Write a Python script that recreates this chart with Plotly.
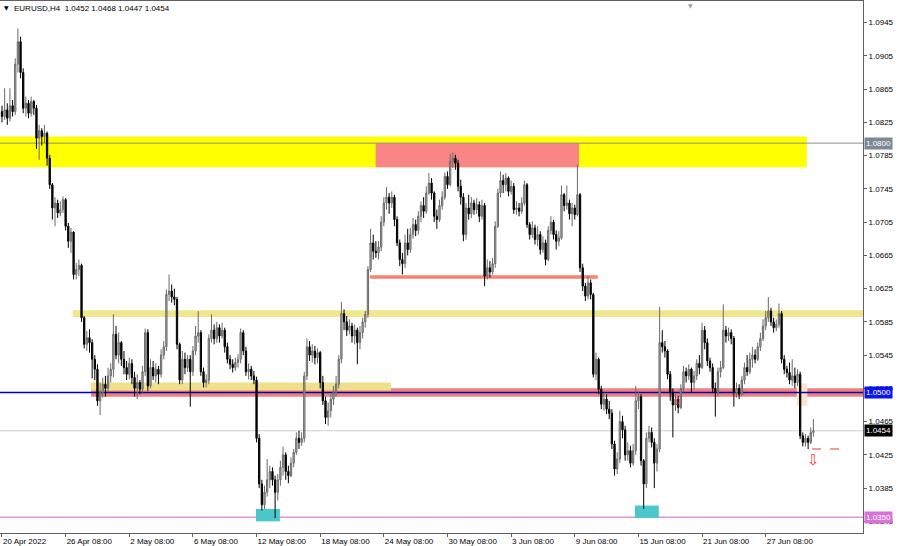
import plotly.graph_objects as go
import pandas as pd

# ---------------- data (EURUSD, H4) ----------------
first_open = 1.0838
closes = [
    1.0832, 1.0840, 1.0830, 1.0845, 1.0838, 1.0895, 1.0922, 1.0885, 1.0842, 1.0848,
    1.0836, 1.0850, 1.0842, 1.0806, 1.0815, 1.0808, 1.0812, 1.0782, 1.0750, 1.0722,
    1.0728, 1.0716, 1.0720, 1.0732, 1.0700, 1.0682, 1.0693, 1.0642, 1.0648, 1.0653,
    1.0590, 1.0558, 1.0566, 1.0560, 1.0540, 1.0528, 1.0490, 1.0500, 1.0510, 1.0505,
    1.0520, 1.0528, 1.0570, 1.0545, 1.0560, 1.0540, 1.0530, 1.0522, 1.0535, 1.0518,
    1.0505, 1.0512, 1.0504, 1.0525, 1.0572, 1.0508, 1.0530, 1.0520, 1.0528, 1.0522,
    1.0545, 1.0555, 1.0618, 1.0622, 1.0615, 1.0612, 1.0558, 1.0515, 1.0540, 1.0530,
    1.0540, 1.0525, 1.0550, 1.0568, 1.0572, 1.0525, 1.0512, 1.0515, 1.0565, 1.0575,
    1.0565, 1.0578, 1.0568, 1.0575, 1.0555, 1.0540, 1.0534, 1.0530, 1.0536, 1.0540,
    1.0572, 1.0550, 1.0525, 1.0528, 1.0520, 1.0515, 1.0445, 1.0390, 1.0365, 1.0380,
    1.0395, 1.0405, 1.0395, 1.0380, 1.0395, 1.0410, 1.0425, 1.0405, 1.0400, 1.0415,
    1.0428, 1.0445, 1.0440, 1.0445, 1.0520, 1.0555, 1.0545, 1.0550, 1.0542, 1.0548,
    1.0512, 1.0490, 1.0470, 1.0478, 1.0492, 1.0500, 1.0510, 1.0540, 1.0595, 1.0585,
    1.0575, 1.0580, 1.0568, 1.0575, 1.0560, 1.0572, 1.0585, 1.0594, 1.0648, 1.0680,
    1.0670, 1.0668, 1.0675, 1.0705, 1.0728, 1.0735, 1.0728, 1.0735, 1.0708, 1.0680,
    1.0660, 1.0655, 1.0680, 1.0672, 1.0690, 1.0702, 1.0695, 1.0712, 1.0725, 1.0718,
    1.0740, 1.0752, 1.0740, 1.0712, 1.0708, 1.0725, 1.0735, 1.0760, 1.0750, 1.0778,
    1.0782, 1.0776, 1.0748, 1.0735, 1.0690, 1.0722, 1.0715, 1.0728, 1.0720, 1.0726,
    1.0712, 1.0725, 1.0640, 1.0650, 1.0645, 1.0655, 1.0700, 1.0740, 1.0755, 1.0750,
    1.0758, 1.0742, 1.0748, 1.0720, 1.0722, 1.0718, 1.0728, 1.0750, 1.0702, 1.0690,
    1.0698, 1.0684, 1.0690, 1.0672, 1.0680, 1.0660, 1.0695, 1.0705, 1.0690, 1.0682,
    1.0686, 1.0738, 1.0725, 1.0728, 1.0715, 1.0722, 1.0714, 1.0738, 1.0650, 1.0628,
    1.0616, 1.0632, 1.0618, 1.0522, 1.0540, 1.0504, 1.0486, 1.0492, 1.0480, 1.0475,
    1.0438, 1.0408, 1.0420, 1.0465, 1.0455, 1.0425, 1.0430, 1.0415, 1.0430, 1.0490,
    1.0495, 1.0418, 1.0390, 1.0445, 1.0452, 1.0440, 1.0415, 1.0432, 1.0560, 1.0555,
    1.0550, 1.0522, 1.0500, 1.0485, 1.0492, 1.0482, 1.0505, 1.0525, 1.0520, 1.0528,
    1.0512, 1.0520, 1.0535, 1.0530, 1.0575, 1.0560, 1.0538, 1.0530, 1.0505, 1.0500,
    1.0525, 1.0530, 1.0575, 1.0568, 1.0572, 1.0565, 1.0500, 1.0505, 1.0498, 1.0515,
    1.0530, 1.0525, 1.0540, 1.0545, 1.0540, 1.0555, 1.0565, 1.0580, 1.0590, 1.0598,
    1.0585, 1.0578, 1.0582, 1.0595, 1.0540, 1.0528, 1.0524, 1.0515, 1.0520, 1.0512,
    1.0522, 1.0448, 1.0440, 1.0445, 1.0440, 1.0452, 1.0454,
]
highs = [
    1.0845, 1.0866, 1.0848, 1.0866, 1.0852, 1.0902, 1.0938, 1.0928, 1.0890, 1.0856,
    1.0852, 1.0856, 1.0852, 1.0846, 1.0822, 1.0818, 1.0822, 1.0814, 1.0786, 1.0752,
    1.0735, 1.0732, 1.0730, 1.0736, 1.0734, 1.0704, 1.0698, 1.0694, 1.0656, 1.0660,
    1.0655, 1.0592, 1.0574, 1.0576, 1.0564, 1.0545, 1.0534, 1.0512, 1.0518, 1.0520,
    1.0530, 1.0535, 1.0594, 1.0580, 1.0572, 1.0562, 1.0550, 1.0538, 1.0542, 1.0540,
    1.0525, 1.0522, 1.0515, 1.0532, 1.0577, 1.0576, 1.0540, 1.0538, 1.0535, 1.0532,
    1.0552, 1.0562, 1.0624, 1.0642, 1.0630, 1.0625, 1.0615, 1.0560, 1.0550, 1.0548,
    1.0545, 1.0545, 1.0556, 1.0580, 1.0598, 1.0575, 1.0530, 1.0522, 1.0570, 1.0594,
    1.0582, 1.0585, 1.0582, 1.0584, 1.0578, 1.0560, 1.0545, 1.0540, 1.0542, 1.0546,
    1.0577, 1.0575, 1.0555, 1.0535, 1.0532, 1.0526, 1.0519, 1.0450, 1.0395, 1.0388,
    1.0420, 1.0412, 1.0410, 1.0400, 1.0402, 1.0418, 1.0435, 1.0428, 1.0412, 1.0422,
    1.0432, 1.0452, 1.0454, 1.0452, 1.0525, 1.0565, 1.0562, 1.0558, 1.0556, 1.0553,
    1.0550, 1.0520, 1.0495, 1.0488, 1.0498, 1.0508, 1.0520, 1.0545, 1.0609, 1.0600,
    1.0592, 1.0588, 1.0584, 1.0582, 1.0578, 1.0580, 1.0590, 1.0598, 1.0652, 1.0697,
    1.0690, 1.0682, 1.0682, 1.0712, 1.0735, 1.0747, 1.0740, 1.0742, 1.0738, 1.0712,
    1.0684, 1.0668, 1.0690, 1.0697, 1.0698, 1.0710, 1.0708, 1.0718, 1.0730, 1.0735,
    1.0748, 1.0764, 1.0758, 1.0742, 1.0720, 1.0732, 1.0742, 1.0765, 1.0766, 1.0787,
    1.0789, 1.0786, 1.0780, 1.0756, 1.0740, 1.0728, 1.0738, 1.0735, 1.0732, 1.0734,
    1.0730, 1.0732, 1.0728, 1.0660, 1.0658, 1.0662, 1.0706, 1.0745, 1.0766, 1.0762,
    1.0764, 1.0760, 1.0755, 1.0752, 1.0730, 1.0728, 1.0735, 1.0755, 1.0752, 1.0705,
    1.0706, 1.0702, 1.0700, 1.0694, 1.0688, 1.0684, 1.0700, 1.0712, 1.0708, 1.0695,
    1.0694, 1.0749, 1.0740, 1.0749, 1.0732, 1.0728, 1.0726, 1.0774, 1.0740, 1.0655,
    1.0632, 1.0640, 1.0636, 1.0620, 1.0548, 1.0542, 1.0508, 1.0500, 1.0498, 1.0490,
    1.0480, 1.0442, 1.0428, 1.0478, 1.0472, 1.0460, 1.0440, 1.0436, 1.0438, 1.0508,
    1.0502, 1.0498, 1.0420, 1.0452, 1.0460, 1.0458, 1.0445, 1.0438, 1.0603, 1.0575,
    1.0562, 1.0552, 1.0526, 1.0505, 1.0498, 1.0496, 1.0510, 1.0532, 1.0530, 1.0534,
    1.0530, 1.0526, 1.0540, 1.0545, 1.0584, 1.0580, 1.0565, 1.0542, 1.0535, 1.0512,
    1.0530, 1.0538, 1.0606, 1.0580, 1.0578, 1.0576, 1.0568, 1.0512, 1.0510, 1.0520,
    1.0536, 1.0545, 1.0548, 1.0555, 1.0552, 1.0560, 1.0572, 1.0588, 1.0598, 1.0615,
    1.0602, 1.0590, 1.0588, 1.0607, 1.0598, 1.0545, 1.0532, 1.0536, 1.0540, 1.0530,
    1.0528, 1.0525, 1.0452, 1.0450, 1.0448, 1.0458, 1.0468,
]
lows = [
    1.0825, 1.0828, 1.0822, 1.0826, 1.0832, 1.0834, 1.0885, 1.0878, 1.0836, 1.0832,
    1.0830, 1.0832, 1.0834, 1.0793, 1.0780, 1.0797, 1.0800, 1.0773, 1.0745, 1.0708,
    1.0700, 1.0710, 1.0712, 1.0716, 1.0695, 1.0674, 1.0668, 1.0636, 1.0636, 1.0640,
    1.0585, 1.0553, 1.0550, 1.0548, 1.0517, 1.0515, 1.0484, 1.0473, 1.0494, 1.0495,
    1.0500, 1.0512, 1.0518, 1.0540, 1.0535, 1.0532, 1.0522, 1.0515, 1.0516, 1.0510,
    1.0495, 1.0492, 1.0498, 1.0500, 1.0520, 1.0502, 1.0505, 1.0515, 1.0512, 1.0510,
    1.0518, 1.0540, 1.0550, 1.0610, 1.0608, 1.0605, 1.0552, 1.0510, 1.0510, 1.0522,
    1.0525, 1.0483, 1.0520, 1.0545, 1.0560, 1.0520, 1.0506, 1.0506, 1.0510, 1.0560,
    1.0558, 1.0560, 1.0560, 1.0565, 1.0548, 1.0535, 1.0528, 1.0524, 1.0526, 1.0530,
    1.0535, 1.0545, 1.0520, 1.0516, 1.0515, 1.0510, 1.0440, 1.0385, 1.0358, 1.0360,
    1.0375, 1.0385, 1.0388, 1.0349, 1.0370, 1.0388, 1.0400, 1.0395, 1.0391, 1.0398,
    1.0410, 1.0425, 1.0432, 1.0436, 1.0440, 1.0515, 1.0538, 1.0536, 1.0534, 1.0535,
    1.0505, 1.0485, 1.0462, 1.0460, 1.0470, 1.0485, 1.0495, 1.0505, 1.0535, 1.0575,
    1.0568, 1.0570, 1.0560, 1.0558, 1.0534, 1.0552, 1.0565, 1.0578, 1.0590, 1.0645,
    1.0660, 1.0662, 1.0660, 1.0670, 1.0700, 1.0720, 1.0715, 1.0722, 1.0700, 1.0676,
    1.0652, 1.0642, 1.0650, 1.0665, 1.0668, 1.0685, 1.0688, 1.0690, 1.0705, 1.0710,
    1.0715, 1.0738, 1.0732, 1.0705, 1.0697, 1.0705, 1.0720, 1.0732, 1.0745, 1.0748,
    1.0770, 1.0768, 1.0742, 1.0726, 1.0682, 1.0684, 1.0708, 1.0710, 1.0714, 1.0715,
    1.0705, 1.0708, 1.0628, 1.0636, 1.0638, 1.0642, 1.0650, 1.0698, 1.0735, 1.0740,
    1.0742, 1.0736, 1.0738, 1.0715, 1.0714, 1.0712, 1.0715, 1.0725, 1.0698, 1.0684,
    1.0686, 1.0678, 1.0676, 1.0666, 1.0668, 1.0653, 1.0658, 1.0690, 1.0684, 1.0672,
    1.0676, 1.0684, 1.0718, 1.0720, 1.0708, 1.0700, 1.0708, 1.0712, 1.0645, 1.0622,
    1.0610, 1.0612, 1.0612, 1.0518, 1.0515, 1.0498, 1.0480, 1.0478, 1.0474, 1.0468,
    1.0432, 1.0400, 1.0402, 1.0415, 1.0445, 1.0418, 1.0418, 1.0410, 1.0412, 1.0425,
    1.0480, 1.0412, 1.0360, 1.0385, 1.0440, 1.0434, 1.0385, 1.0405, 1.0428, 1.0548,
    1.0542, 1.0516, 1.0490, 1.0446, 1.0478, 1.0475, 1.0480, 1.0500, 1.0512, 1.0515,
    1.0500, 1.0504, 1.0515, 1.0522, 1.0528, 1.0552, 1.0532, 1.0525, 1.0500, 1.0471,
    1.0495, 1.0518, 1.0528, 1.0560, 1.0562, 1.0558, 1.0483, 1.0494, 1.0492, 1.0496,
    1.0510, 1.0520, 1.0522, 1.0530, 1.0535, 1.0538, 1.0550, 1.0562, 1.0575, 1.0585,
    1.0580, 1.0572, 1.0574, 1.0578, 1.0535, 1.0522, 1.0518, 1.0510, 1.0508, 1.0505,
    1.0508, 1.0444, 1.0435, 1.0435, 1.0432, 1.0438, 1.0447,
]
opens = [first_open] + closes[:-1]   # forex bars open at the previous close

# time labels of the bottom axis
tick_times = ["2022-04-20 08:00", "2022-04-26 08:00", "2022-05-02 08:00", "2022-05-06 08:00",
              "2022-05-12 08:00", "2022-05-18 08:00", "2022-05-24 08:00", "2022-05-30 08:00",
              "2022-06-03 08:00", "2022-06-09 08:00", "2022-06-15 08:00", "2022-06-21 08:00",
              "2022-06-27 08:00"]
tick_text = ["20 Apr 2022", "26 Apr 08:00", "2 May 08:00", "6 May 08:00", "12 May 08:00",
             "18 May 08:00", "24 May 08:00", "30 May 08:00", "3 Jun 08:00", "9 Jun 08:00",
             "15 Jun 08:00", "21 Jun 08:00", "27 Jun 08:00"]
price_ticks = [1.0345, 1.0385, 1.0425, 1.0465, 1.0505, 1.0545, 1.0585, 1.0625,
               1.0665, 1.0705, 1.0745, 1.0785, 1.0825, 1.0865, 1.0905, 1.0945]

# drawn levels / zones (bar index range, price range)
upper_zone = (-1, 303.5, 1.0771, 1.0808)
upper_zone_part = (140.9, 217.6, 1.0771, 1.0800)
level_1_0800 = 1.0800
mid_band = (26.7, 330, 1.0591, 1.0599)
low_band_red = (33.6, 330, 1.0495, 1.0505)
low_band_yellow = (33.6, 146.7, 1.0502, 1.0512)
level_1_0500 = 1.0500
support_line = (138.8, 224.7, 1.0639)
bid_level = 1.0454
level_1_0350 = 1.0350
low_boxes = [(95.8, 104.8, 1.0345, 1.0360), (238.7, 247.7, 1.0349, 1.0364)]
peach_box = (299.7, 303.7, 1.0484, 1.0511)
target_line = (305.5, 319, 1.0432)
arrows = [(306, 1.0419, 15), (254.5, 1.0489, 11)]
FULL = (-1, 330)   # full-width lines span the whole visible bar range

# bar times (H4, weekdays) -> index of each label
times = []
for d in pd.bdate_range("2022-04-20", "2022-07-01"):
    for h in range(0, 24, 4):
        t = d + pd.Timedelta(hours=h)
        if t >= pd.Timestamp("2022-04-20 08:00"):
            times.append(t)
times = times[:len(closes)]
bars = list(range(len(closes)))
tick_bars = [times.index(pd.Timestamp(t)) for t in tick_times]

FONT = "Liberation Sans, Arial, sans-serif"

fig = go.Figure()
fig.add_trace(go.Candlestick(
    x=bars, open=opens, high=highs, low=lows, close=closes,
    increasing=dict(line=dict(color="#6a6a6a", width=1), fillcolor="#b4b4b4"),
    decreasing=dict(line=dict(color="#000000", width=1), fillcolor="#000000"),
    whiskerwidth=0, hoverinfo="skip", showlegend=False,
))

shapes = []


def rect(x0, x1, y0, y1, color):
    shapes.append(dict(type="rect", xref="x", yref="y", x0=x0, x1=x1, y0=y0, y1=y1,
                       fillcolor=color, line=dict(width=0), layer="below"))


def hline(y, color, width, x0=FULL[0], x1=FULL[1], dash="solid"):
    shapes.append(dict(type="line", xref="x", yref="y", x0=x0, x1=x1, y0=y, y1=y,
                       line=dict(color=color, width=width, dash=dash), layer="below"))


rect(*upper_zone, "#ffff00")
rect(*upper_zone_part, "#f98585")
hline(level_1_0800, "#8c8c8c", 1)
rect(*mid_band, "#f0e68c")
rect(*low_band_red, "#f08080")
rect(*low_band_yellow, "#f0e08c")
hline(low_band_yellow[2], "#f4a460", 1, low_band_yellow[0], low_band_yellow[1])
hline(support_line[2], "#fa8072", 3.5, support_line[0], support_line[1])
hline(bid_level, "#d0d0d0", 1)
hline(level_1_0350, "#da9ada", 1.5)
for b in low_boxes:
    rect(*b, "#4cc8cc")
rect(*peach_box, "#fce4cc")
hline(target_line[2], "#e88080", 1.5, target_line[0], target_line[1], dash="dash")
hline(level_1_0500, "#0000b4", 1.5)

annotations = []
for xb, yp, sz in arrows:
    annotations.append(dict(x=xb, y=yp, xref="x", yref="y", text="⇩", showarrow=False,
                            font=dict(color="#f03c3c", size=sz, family="DejaVu Sans")))


def axis_label(price, bg):
    annotations.append(dict(x=1, xref="paper", y=price, yref="y", text=f"{price:.4f}",
                            xanchor="left", xshift=1, showarrow=False, bgcolor=bg,
                            borderpad=1, font=dict(color="white", size=8, family=FONT)))


axis_label(level_1_0800, "#7d8895")
axis_label(level_1_0500, "#0a14f0")
axis_label(bid_level, "#000000")
axis_label(level_1_0350, "#d873d8")

annotations.append(dict(x=0, xref="paper", y=1, yref="paper", xanchor="left", yanchor="top",
                        xshift=2, yshift=-1, showarrow=False, text="▼",
                        font=dict(size=6, color="#000000", family="DejaVu Sans")))
annotations.append(dict(x=0, xref="paper", y=1, yref="paper", xanchor="left", yanchor="top",
                        xshift=12, yshift=-1, showarrow=False,
                        text=f"EURUSD,H4  {opens[-1]:.4f} {highs[-1]:.4f} {lows[-1]:.4f} {closes[-1]:.4f}",
                        font=dict(size=8, color="#000000", family=FONT)))
annotations.append(dict(x=259.5, xref="x", y=1, yref="paper", yanchor="top", yshift=1,
                        showarrow=False, text="▼",
                        font=dict(size=6, color="#a0a0a0", family="DejaVu Sans")))

fig.update_layout(
    width=900, height=546,
    margin=dict(l=0, r=37, t=1, b=13, pad=0),
    paper_bgcolor="white", plot_bgcolor="white",
    shapes=shapes, annotations=annotations,
    showlegend=False, hovermode=False,
    xaxis=dict(range=[-0.75, 324.7], rangeslider=dict(visible=False), showgrid=False,
               zeroline=False, showline=True, linecolor="#606060", linewidth=1, mirror=True,
               ticks="outside", ticklen=3, tickcolor="#606060",
               tickvals=tick_bars, ticktext=tick_text, ticklabelposition="outside right",
               tickfont=dict(size=8, color="#000000", family=FONT), automargin=False),
    yaxis=dict(range=[1.0331, 1.0971], side="right", showgrid=False, zeroline=False,
               showline=True, linecolor="#606060", linewidth=1, mirror=True,
               ticks="outside", ticklen=3, tickcolor="#606060",
               tickvals=price_ticks, ticktext=[f"{v:.4f}" for v in price_ticks],
               tickfont=dict(size=8, color="#000000", family=FONT), automargin=False),
)

fig.write_html(
    "out.html",
    config={"displayModeBar": False},
    post_script="document.body.style.margin='0';document.body.style.padding='0';"
                "document.body.style.overflow='hidden';",
)
